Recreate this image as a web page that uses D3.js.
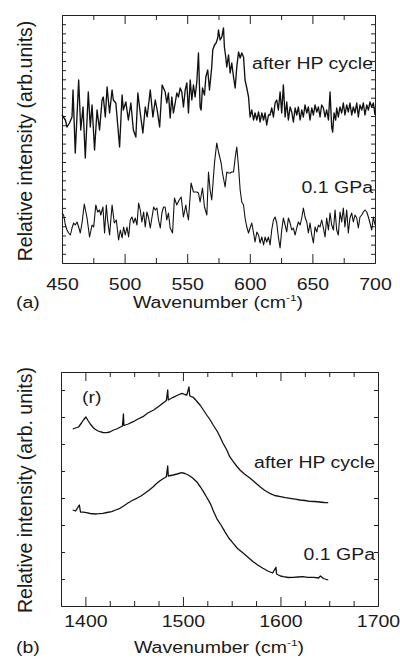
<!DOCTYPE html>
<html>
<head>
<meta charset="utf-8">
<script src="https://cdn.jsdelivr.net/npm/d3@7"></script>
<style>
  body { margin: 0; background: #fff; }
  svg { display: block; }
  text { font-family: "Liberation Sans", Arial, Helvetica, sans-serif; fill: #1a1a1a; }
</style>
</head>
<body>
<div id="chart"></div>
<script>
// ---- data: [wavenumber, intensity (arb.)] ----
var hpA = [[450,148],[452.7,143],[454,136],[456,140],[458,146],[458.8,173],[460.6,110],[463.3,183],[465,133],[466.8,156],
  [468.6,105],[471,171],[472.6,136],[474,158],[476,113],[478,153],[480,133],[482,163],[483,166],[484.6,146],[486,176],
  [488,150],[490,173],[491,163],[493,160],[496,116],[498,168],[499,153],[501,161],[503,143],[505,160],[507,133],[509,126],
  [510.6,170],[512.5,150],[514.6,130],[516.5,156],[518,146],[520.5,173],[522.6,146],[524.5,163],[526,153],[528,136],[530,178],
  [532.4,171],[533.7,160],[535,170],[536.4,145],[537.7,166],[539,150],[540.4,160],[541.7,170],[543,166],[544.4,175],
  [545.7,171],[547,156],[548.4,173],[549.7,180],[551,150],[552.4,183],[553.7,163],[555,178],[556.3,166],[557.7,181],
  [559,210],[560.3,156],[561.1,153],[562.2,175],[563.8,168],[564.9,186],[566.4,193],[567.8,173],[569.6,196],[570.4,213],
  [571.8,218],[573.1,220],[574.4,225],[575,233],[576.3,223],[577.6,226],[579,235],[579.7,216],[580.8,206],[581.6,196],
  [583,208],[584.3,190],[585.6,200],[587,186],[588.3,175],[589.6,196],[591,211],[592.3,205],[593.6,210],[595,206],
  [596.2,183],[597.6,175],[599,166],[600.2,146],[601.6,153],[603,143],[604.2,150],[605.6,143],[607,151],[608.2,141],
  [609.6,150],[611,143],[612.2,150],[613.5,138],[614.9,148],[616.2,148],[617.5,155],[618.9,146],[620.2,160],[621.5,163],
  [622.8,153],[624.2,171],[625.5,150],[626.8,178],[628.2,146],[629.5,161],[630.8,143],[632.2,156],[633.5,151],[634.8,141],
  [636.2,155],[637.5,148],[638.8,156],[640.2,143],[641.5,153],[642.8,146],[644.1,158],[645.5,150],[646.8,156],[648.1,143],
  [649.5,155],[650.8,148],[652.1,158],[653.5,151],[654.8,156],[656.1,146],[657.4,158],[658.8,155],[660.1,146],[661.4,153],
  [662.8,143],[664.1,171],[665.4,136],[666.2,131],[667.3,150],[668.6,143],[669.4,155],[670.7,146],[672,156],[673.4,150],
  [674.7,160],[676,148],[677.4,158],[678.7,151],[680,160],[681.4,148],[682.7,156],[684,150],[685.4,160],[686.7,146],
  [688,158],[689.4,153],[690.7,160],[692,148],[693.4,158],[694.7,153],[696,161],[697.4,156],[698.7,160],[700,148]];

var gpaA = [[450,50],[451.3,48],[452.7,38],[454,33],[455.3,30],[456.7,28],[458,35],[459.3,40],[460.6,38],[462,41],
  [463.3,36],[464.6,30],[466,40],[467.8,59],[470,45],[472,26],[474,38],[475.3,36],[477,58],[478.5,51],[480,53],[481,48],
  [482.7,56],[484,30],[485.4,58],[486.4,43],[488,28],[490,58],[491.8,40],[493.4,43],[495.2,23],[496.6,33],[498,25],
  [499.2,36],[500.5,28],[501.9,36],[503.2,26],[504.5,43],[505.9,46],[507.2,40],[508.5,45],[509.9,38],[511.2,60],
  [512.5,53],[513.8,41],[515.2,51],[516.5,36],[517.8,51],[519.2,45],[520.5,35],[523.2,56],[524.5,53],[525.8,55],
  [527.1,43],[528.5,35],[529.8,50],[531.1,56],[532.4,56],[533.7,43],[535,50],[536.4,35],[538.3,30],[539.8,65],
  [541.7,58],[543.6,63],[545.2,66],[547,46],[548.9,58],[549.7,51],[551,43],[553.1,80],[555,71],[557.7,71],[559,70],
  [560.3,61],[562.2,75],[563.8,56],[565.7,48],[567,91],[568.3,73],[569.6,63],[571.8,100],[573.6,120],[575,111],
  [577.1,100],[578.2,90],[580.3,76],[581.6,91],[583,90],[584.3,90],[585.6,91],[587,91],[588.3,105],[589.6,116],
  [591,96],[592.3,73],[593.6,61],[595,58],[596.2,45],[597.6,36],[599,30],[600.2,35],[601.6,40],[603,30],[604.2,21],
  [605.6,31],[607,28],[608.2,20],[609.6,26],[611,18],[612.2,26],[613.5,21],[614.9,26],[616.2,18],[617.5,33],[618.9,43],
  [620.2,46],[621.5,40],[622.8,26],[624.2,15],[625.5,33],[626.8,45],[628.2,38],[629.5,31],[630.8,45],[632.2,40],
  [633.5,33],[634.8,35],[636.2,28],[637.5,35],[638.8,41],[640.2,38],[641.5,45],[642.8,55],[644.1,46],[645.5,41],
  [646.8,30],[648.1,40],[649.5,28],[650.8,20],[652.1,36],[653.5,31],[654.8,38],[656.1,36],[657.4,43],[658.8,35],
  [660.1,26],[661.4,45],[662.8,33],[664.1,50],[665.4,38],[666.8,33],[668.1,53],[669.4,33],[670.7,28],[672.1,51],
  [673.4,41],[674.7,55],[676,36],[677.4,53],[678.7,30],[680,45],[681.4,50],[682.7,41],[684,48],[685.4,45],[686.7,35],
  [688,46],[689.4,48],[690.7,51],[692,53],[693.4,51],[694.7,46],[696,40],[697.4,33],[698.7,46],[700,38]];

var hpB = [[1387,177],[1390,178],[1393,179],[1396,183],[1398,186],[1400.5,189],[1403,185],[1405,182],[1408,178.5],
  [1410,176.7],[1413,175],[1415,174.3],[1418,173.5],[1422,173.3],[1425,174],[1429,176],[1432,177],[1435,178.5],
  [1438,180],[1439,192],[1439.5,180.5],[1444,182],[1449,184.3],[1454,187],[1459,189.3],[1464,193],[1470,196],
  [1475,199.5],[1480,203.3],[1483,205.5],[1484.4,216],[1485,206],[1490,208.7],[1495,211],[1499,212.7],[1502,211.5],
  [1504,211],[1506.2,219],[1507,210],[1510.6,208.7],[1514,205],[1517.5,201],[1521,196],[1524.4,191],[1528,186],
  [1531,181],[1535,175],[1538,169.3],[1541,163],[1545,156],[1548,149.3],[1551.6,144.3],[1555,140],[1558.5,136],
  [1563,132],[1569,127.7],[1574,123.5],[1579,119.3],[1584,115.5],[1589,112.7],[1594,110.5],[1600,109.3],[1605,108.3],
  [1610,107.7],[1615,106.8],[1620,106],[1625,105.5],[1630,104.7],[1635,104.5],[1640,104],[1645,103.5],[1649,103.3]];

var gpaB = [[1387,96],[1390,95],[1393.8,101],[1395,94],[1398,93.8],[1401,93.3],[1405,92.5],[1410,92],[1414,92.3],
  [1418,92.7],[1422,93.5],[1427,94.3],[1431,96],[1435.5,97.7],[1440,100.5],[1444,103.3],[1448,105.5],[1452.6,107.7],
  [1457,110],[1461,112.7],[1465.5,116],[1469.6,119.3],[1473,122.5],[1476.5,125.3],[1480,127.5],[1483,129.3],
  [1484.4,140],[1485,130],[1490,131],[1494,132],[1498.7,133.3],[1502,132.5],[1505.5,131],[1510,128],[1514,124.3],
  [1518,119],[1521,114.3],[1524.5,108.5],[1528,102.7],[1531,95.5],[1534.6,87.7],[1539,81],[1543,74.3],[1547,68],
  [1551.6,62.7],[1556,57.5],[1562,52.7],[1567,48.5],[1572,44.3],[1577,40.8],[1582,37.7],[1587,35],[1592,33],
  [1595.4,38.7],[1596,32],[1600,30],[1603,29.3],[1608,28.5],[1613,28.7],[1618,29],[1623,29.3],[1628,28.7],
  [1634,28.7],[1639,28],[1641,30],[1644,27.5],[1649,26]];

var aMajor = [450, 500, 550, 600, 650, 700];
var aMinor = [475, 525, 575, 625, 675];
var bMajor = [1400, 1500, 1600, 1700];
var bMinor = [1425, 1450, 1475, 1525, 1550, 1575, 1625, 1650, 1675];

var svg = d3.select("#chart")
    .append("svg")
    .attr("width", 400)
    .attr("height", 660);

// horizontal text, squashed a bit vertically like the scanned figure
function label(x, y, str, anchor) {
    return svg.append("text")
        .attr("transform", "translate(" + x + "," + y + ") scale(1,0.8)")
        .attr("text-anchor", anchor || "start")
        .style("font-size", "19.5px")
        .text(str);
}

function xTitle(cx, y) {
    var t = svg.append("text")
        .attr("transform", "translate(" + cx + "," + y + ") scale(1,0.8)")
        .attr("text-anchor", "middle")
        .style("font-size", "19.5px");
    t.append("tspan").text("Wavenumber (cm");
    t.append("tspan").attr("dy", -9).style("font-size", "12px").text("-1");
    t.append("tspan").attr("dy", 9).text(")");
}

function yTitle(x, cy, str) {
    svg.append("text")
        .attr("transform", "translate(" + x + "," + cy + ") rotate(-90)")
        .attr("text-anchor", "middle")
        .style("font-size", "19.5px")
        .text(str);
}

function drawPanel(p) {
    var x = d3.scaleLinear().domain(p.xDomain).range([p.left, p.right]);
    var y = d3.scaleLinear().domain([0, p.yMax]).range([p.bottom, p.top]);
    var g = svg.append("g");

    // minor ticks, bottom and top
    g.append("g").attr("transform", "translate(0," + p.bottom + ")")
        .call(d3.axisBottom(x).tickValues(p.minor).tickSize(-5).tickSizeOuter(0).tickFormat(""));
    g.append("g").attr("transform", "translate(0," + p.top + ")")
        .call(d3.axisTop(x).tickValues(p.minor).tickSize(-5).tickSizeOuter(0).tickFormat(""));
    // major ticks
    var bx = g.append("g").attr("transform", "translate(0," + p.bottom + ")")
        .call(d3.axisBottom(x).tickValues(p.major).tickSize(-9).tickSizeOuter(0).tickFormat(d3.format("d")));
    g.append("g").attr("transform", "translate(0," + p.top + ")")
        .call(d3.axisTop(x).tickValues(p.major).tickSize(-9).tickSizeOuter(0).tickFormat(""));
    // y ticks, no labels
    g.append("g").attr("transform", "translate(" + p.left + ",0)")
        .call(d3.axisLeft(y).tickValues(p.yTicks).tickSize(-4).tickSizeOuter(0).tickFormat(""));
    g.append("g").attr("transform", "translate(" + p.right + ",0)")
        .call(d3.axisRight(y).tickValues(p.yTicks).tickSize(-4).tickSizeOuter(0).tickFormat(""));

    g.selectAll(".domain, .tick line").attr("stroke", "#222");
    bx.selectAll("text")
        .attr("y", 0).attr("dy", 0)
        .attr("transform", "translate(0," + p.labelOff + ") scale(1,0.8)")
        .attr("fill", "#1a1a1a")
        .style("font-size", "19.5px");

    var line = d3.line()
        .x(function(d) { return x(d[0]); })
        .y(function(d) { return y(d[1]); });

    p.series.forEach(function(s, i) {
        g.append("path")
            .datum(s)
            .attr("fill", "none")
            .attr("stroke", "#111")
            .attr("stroke-width", p.lineWidth[i])
            .attr("stroke-linejoin", "round")
            .attr("d", line);
    });
}

// (a) low wavenumber region
drawPanel({
    left: 62, right: 375, top: 15, bottom: 263,
    xDomain: [450, 700], yMax: 248,
    major: aMajor, minor: aMinor,
    yTicks: d3.range(1, 27).map(function(i) { return i * 248 / 27; }),
    labelOff: 27, lineWidth: [1.35, 1.1],
    series: [hpA, gpaA]
});
label(373, 69, "after HP cycle", "end");
label(373, 193, "0.1 GPa", "end");
label(16, 308, "(a)");
xTitle(218, 308);
yTitle(32, 141, "Relative intensity (arb.units)");

// (b) high wavenumber region
drawPanel({
    left: 61, right: 378, top: 372, bottom: 606,
    xDomain: [1375, 1700], yMax: 234,
    major: bMajor, minor: bMinor,
    yTicks: d3.range(27, 234, 27),
    labelOff: 21, lineWidth: [1.3, 1.3],
    series: [hpB, gpaB]
});
label(82, 403, "(r)");
label(375, 468, "after HP cycle", "end");
label(375, 560, "0.1 GPa", "end");
label(16, 653, "(b)");
xTitle(219, 653);
yTitle(32, 490, "Relative intensity (arb. units)");
</script>
</body>
</html>
